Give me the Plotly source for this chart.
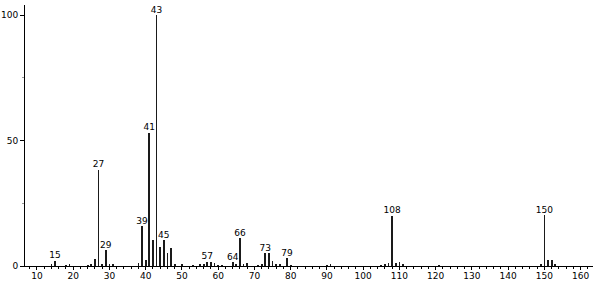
import plotly.graph_objects as go

# m/z values and relative intensities
mz = [14, 15, 18, 19, 24, 25, 26, 27, 28, 29, 30, 31, 38, 39, 40, 41, 42, 43, 44, 45, 46, 47, 48,
      50, 53, 55, 56, 57, 58, 59, 60, 61, 64, 65, 66, 67, 68, 71, 72, 73, 74, 75, 76, 77, 79, 80,
      90, 91, 105, 106, 107, 108, 109, 110, 111, 121, 149, 150, 151, 152, 153]
intensity = [0.5, 2.1, 0.3, 0.5, 0.4, 0.6, 2.6, 38.4, 0.8, 6.4, 0.5, 0.6, 1.1, 16.0, 2.2, 53.2, 10.2, 100.0, 7.4, 10.2, 5.2, 7.3, 0.6,
             0.5, 0.4, 0.5, 0.6, 1.7, 1.5, 1.3, 0.4, 0.4, 1.6, 0.6, 11.0, 0.5, 1.0, 0.4, 0.5, 5.2, 5.2, 2.1, 0.8, 0.5, 3.0, 0.4,
             0.4, 0.6, 0.4, 0.7, 1.2, 20.1, 1.0, 1.5, 0.5, 0.4, 0.5, 20.4, 2.5, 2.5, 0.5]

labeled_mz = [15, 27, 29, 39, 41, 43, 45, 57, 64, 66, 73, 79, 108, 150]
x_ticks = list(range(10, 161, 10))
y_ticks = [0, 50, 100]

lab_int = [intensity[mz.index(m)] for m in labeled_mz]

font = "DejaVu Sans, Liberation Sans, sans-serif"

fig = go.Figure()
fig.add_trace(go.Bar(x=mz, y=intensity, width=0.22,
                     marker=dict(color="#1a1a1a", line=dict(width=0)),
                     hoverinfo="x+y"))
fig.add_trace(go.Scatter(x=labeled_mz, y=lab_int, mode="text",
                         text=[str(m) for m in labeled_mz],
                         textposition="top center",
                         textfont=dict(family=font, size=9, color="#000000"),
                         hoverinfo="skip"))

fig.update_layout(
    width=595, height=282,
    margin=dict(l=25, r=2, t=5, b=16, autoexpand=False),
    paper_bgcolor="white", plot_bgcolor="white",
    showlegend=False, bargap=0,
    xaxis=dict(range=[6.7, 163.4], tickvals=x_ticks, ticktext=[str(v) for v in x_ticks],
               automargin=False,
               showgrid=False, zeroline=False, showline=True, linecolor="#000000", linewidth=1,
               ticks="outside", ticklen=3, tickcolor="#000000", ticklabelstandoff=-2,
               minor=dict(dtick=2, tick0=0, ticks="outside", ticklen=2, tickcolor="#000000", showgrid=False),
               tickfont=dict(family=font, size=9, color="#000000")),
    yaxis=dict(range=[0, 104.1], tickvals=y_ticks, ticktext=[str(v) for v in y_ticks],
               automargin=False,
               showgrid=False, zeroline=False, showline=True, linecolor="#000000", linewidth=1,
               ticks="outside", ticklen=4, tickcolor="#000000",
               minor=dict(tickvals=[25, 75], ticks="outside", ticklen=2, tickcolor="#999999", showgrid=False),
               tickfont=dict(family=font, size=9, color="#000000")),
)

fig.write_html("out.html")
